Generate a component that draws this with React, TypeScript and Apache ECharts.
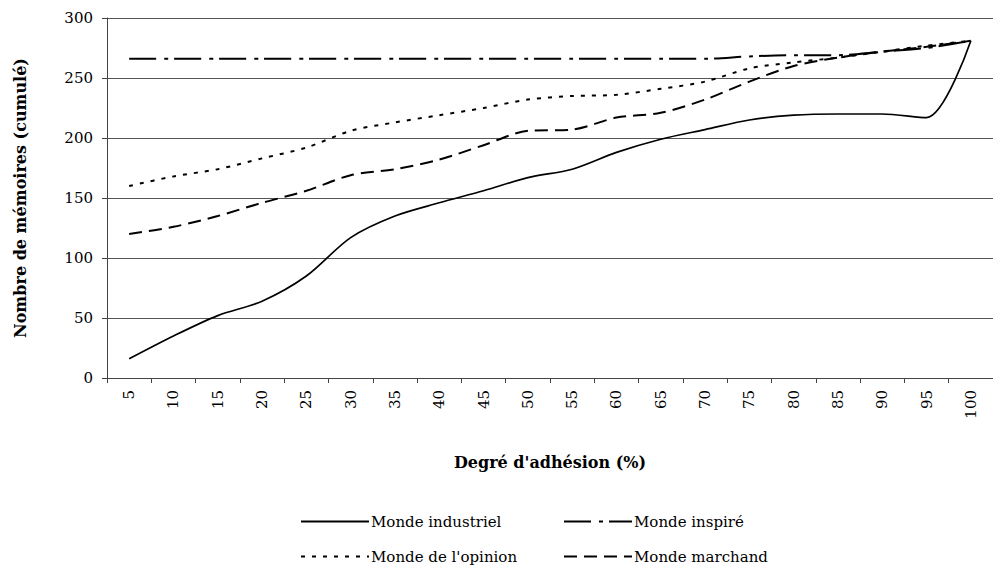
import React, { useEffect, useRef } from "react";
import * as echarts from "echarts";

const categories = ["5", "10", "15", "20", "25", "30", "35", "40", "45", "50", "55", "60", "65", "70", "75", "80", "85", "90", "95", "100"];
const industriel = [16, 35, 52, 64, 85, 117, 135, 146, 156, 167, 174, 188, 199, 207, 215, 219, 220, 220, 217, 281];
const inspire = [266, 266, 266, 266, 266, 266, 266, 266, 266, 266, 266, 266, 266, 266, 268, 269, 269, 272, 275, 281];
const opinion = [160, 168, 174, 183, 192, 206, 213, 219, 225, 232, 235, 236, 241, 247, 258, 263, 267, 272, 277, 281];
const marchand = [120, 126, 135, 146, 156, 169, 174, 182, 194, 206, 207, 217, 221, 232, 247, 260, 267, 272, 276, 281];

const seriesNames = ["Monde industriel", "Monde inspiré", "Monde de l'opinion", "Monde marchand"];
const xTitle = "Degré d'adhésion (%)";
const yTitle = "Nombre de mémoires (cumulé)";

const FONT = "DejaVu Serif";

export default function App() {
  const ref = useRef<HTMLDivElement>(null);
  useEffect(() => {
    const chart = echarts.init(ref.current as HTMLDivElement, null, { renderer: "svg" });
    const legendBase = {
      orient: "horizontal",
      padding: 0,
      itemWidth: 68,
      itemHeight: 14,
      itemGap: 0,
      itemStyle: { opacity: 0, borderWidth: 0 },
      textStyle: { fontFamily: FONT, fontSize: 15, color: "#000", padding: [0, 0, 0, -3] },
    };
    const mk = (name: string, data: number[], type: any, width: number) => ({
      name,
      type: "line",
      data,
      smooth: 0.3,
      symbol: "none",
      showSymbol: false,
      lineStyle: { color: "#000", width, type },
      itemStyle: { color: "#000" },
    });
    chart.setOption({
      animation: false,
      backgroundColor: "#ffffff",
      textStyle: { fontFamily: FONT, color: "#000" },
      grid: { left: 107, top: 18, width: 896, height: 360 },
      xAxis: {
        type: "category",
        data: categories,
        boundaryGap: true,
        name: xTitle,
        nameLocation: "middle",
        nameGap: 76,
        nameTextStyle: { fontFamily: FONT, fontWeight: "bold", fontSize: 16, color: "#000" },
        axisLine: { lineStyle: { color: "#444", width: 1 } },
        axisTick: { show: true, length: 5, interval: 0, lineStyle: { color: "#444" } },
        axisLabel: { rotate: 90, interval: 0, margin: 12, fontSize: 15, color: "#000", fontFamily: FONT },
        splitLine: { show: false },
      },
      yAxis: {
        type: "value",
        min: 0,
        max: 300,
        interval: 50,
        name: yTitle,
        nameLocation: "middle",
        nameGap: 79,
        nameTextStyle: { fontFamily: FONT, fontWeight: "bold", fontSize: 16, color: "#000" },
        axisLine: { show: true, lineStyle: { color: "#444", width: 1 } },
        axisTick: { show: true, length: 5, lineStyle: { color: "#444" } },
        axisLabel: { margin: 14, fontSize: 15, color: "#000", fontFamily: FONT },
        splitLine: { show: true, lineStyle: { color: "#555", width: 1 } },
      },
      legend: [
        { ...legendBase, data: [seriesNames[0]], left: 300, top: 514 },
        { ...legendBase, data: [seriesNames[1]], left: 563, top: 514 },
        { ...legendBase, data: [seriesNames[2]], left: 300, top: 549 },
        { ...legendBase, data: [seriesNames[3]], left: 563, top: 549 },
      ],
      series: [
        mk(seriesNames[0], industriel, "solid", 1.7),
        mk(seriesNames[1], inspire, [27, 8, 4, 6], 2),
        mk(seriesNames[2], opinion, [4, 7], 2),
        mk(seriesNames[3], marchand, [13, 7], 2),
      ],
    });
    return () => chart.dispose();
  }, []);
  return <div ref={ref} style={{ position: "fixed", left: 0, top: 0, width: 993, height: 570 }} />;
}
